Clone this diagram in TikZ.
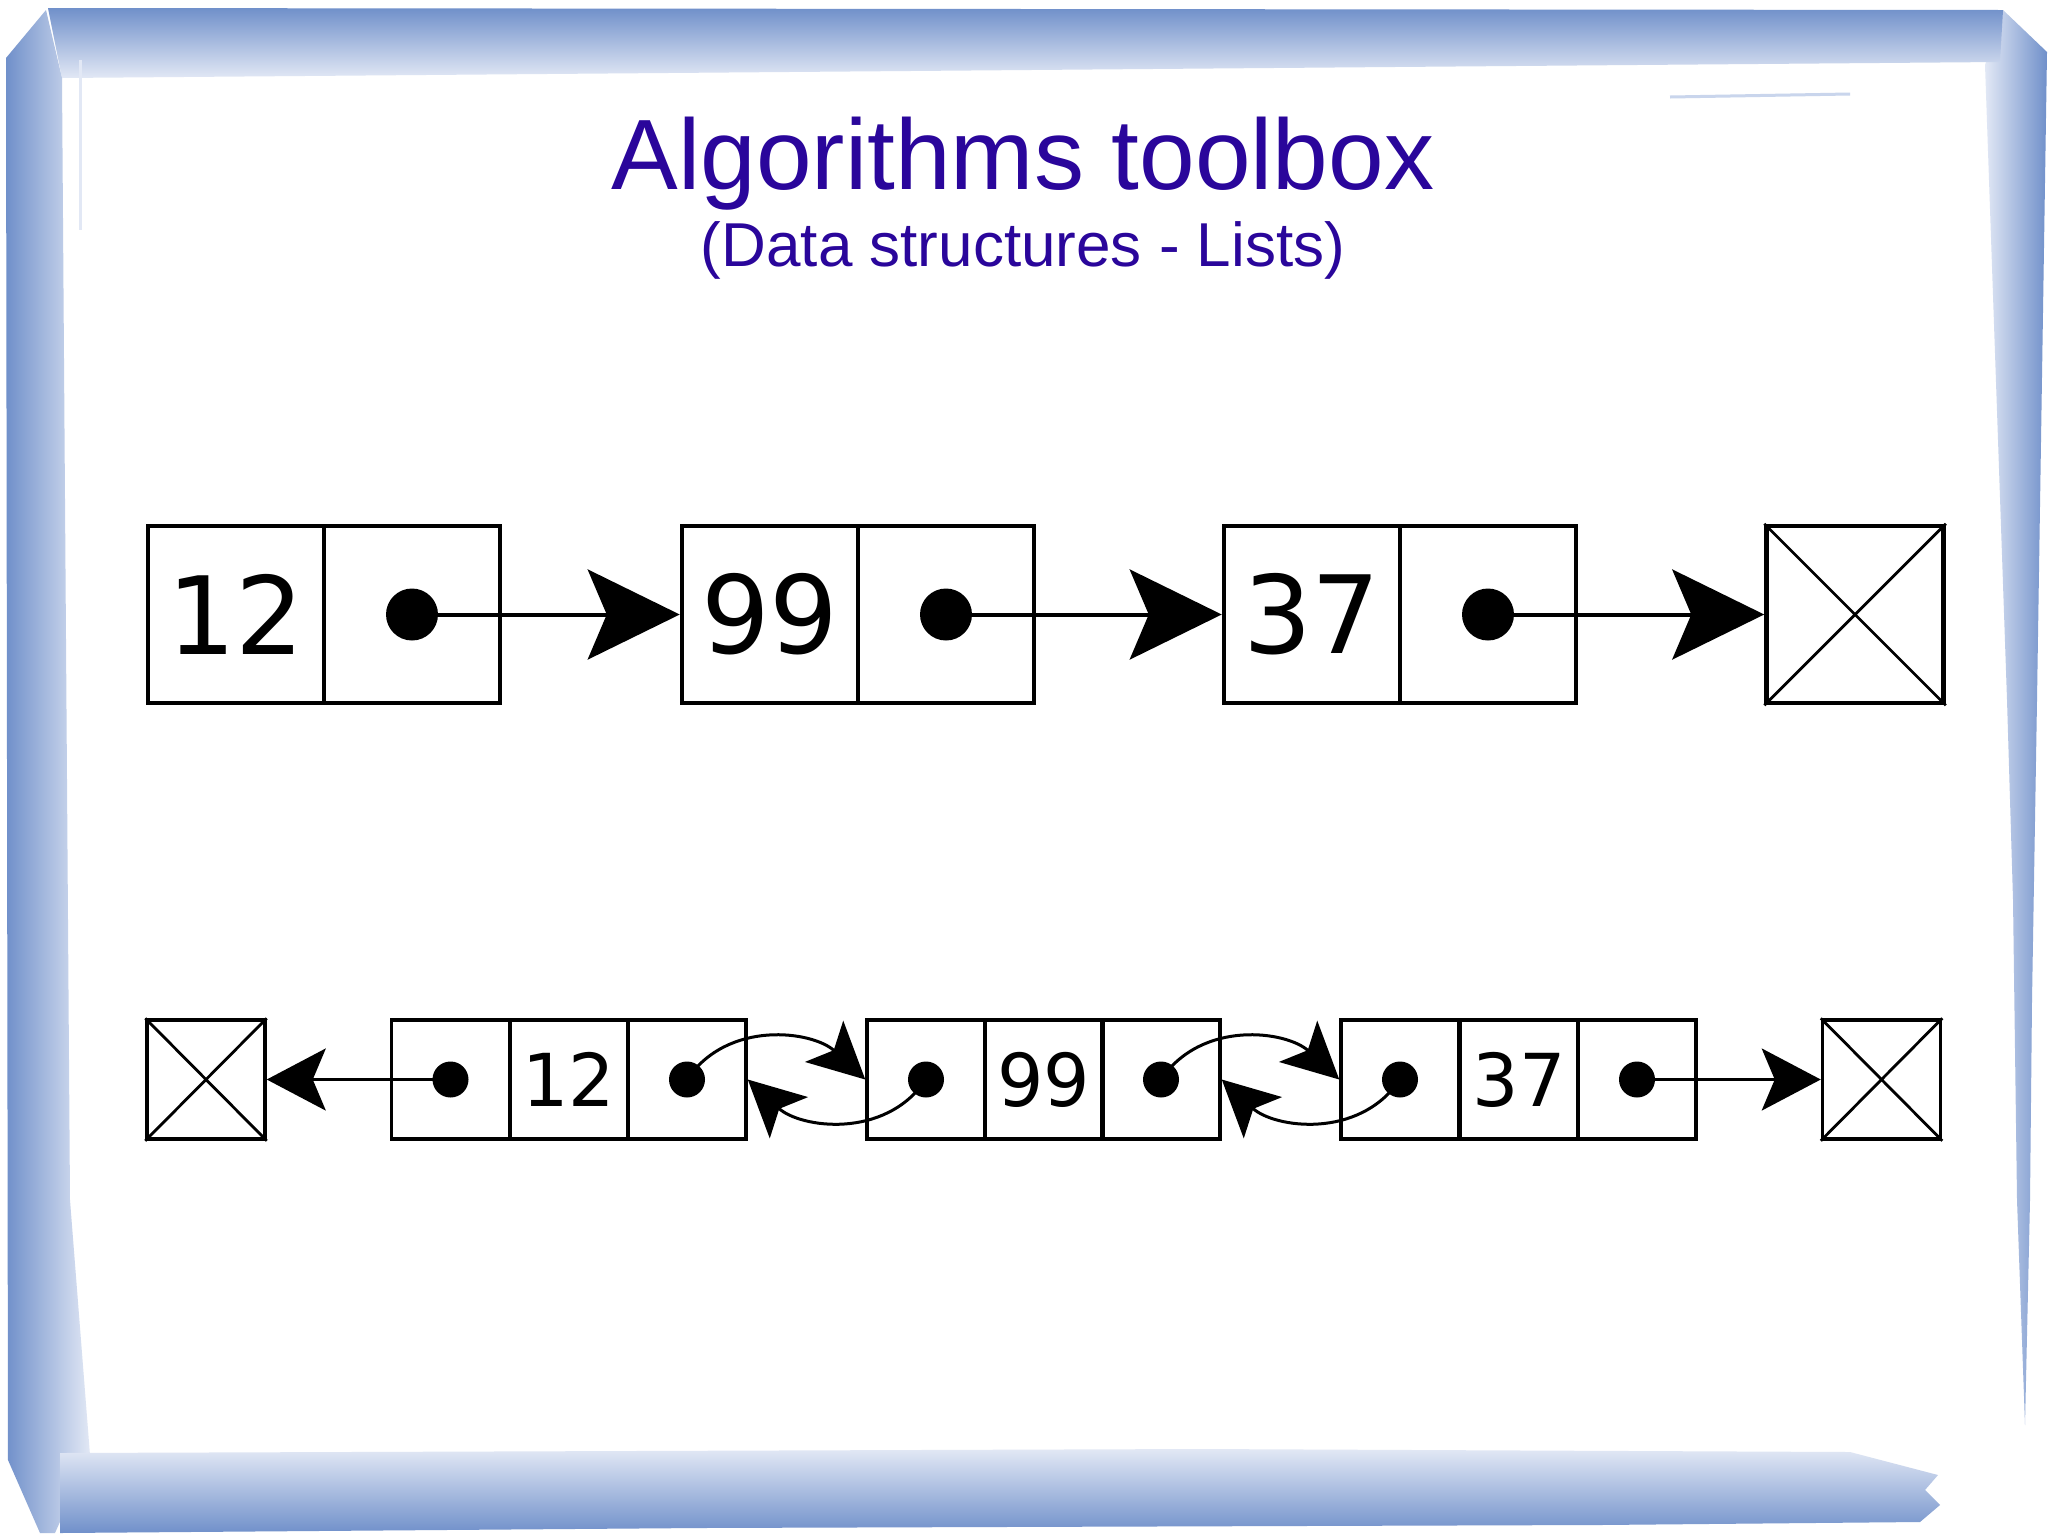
\documentclass[tikz,border=0pt]{standalone}
\usepackage{fontspec}
\setmainfont{Liberation Sans}
\newfontfamily\djv{DejaVu Sans}
\usetikzlibrary{arrows.meta}
\definecolor{titleblue}{RGB}{42,6,155}
\definecolor{frameDark}{RGB}{112,144,202}
\definecolor{frameMid}{RGB}{165,185,224}
\definecolor{framePale}{RGB}{226,232,245}
\begin{document}
\begin{tikzpicture}[x=1pt,y=-1pt,
  bigcell/.style={draw, line width=4.5pt, minimum width=176pt, minimum height=177pt, inner sep=0pt, font=\djv\fontsize{108}{112}\selectfont},
  smallcell/.style={draw, line width=3.5pt, minimum width=118pt, minimum height=119pt, inner sep=0pt, font=\djv\fontsize{73}{76}\selectfont},
  bigdot/.style={circle, fill, minimum size=52pt, inner sep=0pt},
  smalldot/.style={circle, fill, minimum size=36pt, inner sep=0pt},
  bignull/.style={draw, line width=4.5pt, minimum width=177pt, minimum height=177pt, inner sep=0pt},
  smallnull/.style={draw, line width=3.5pt, minimum width=118pt, minimum height=119pt, inner sep=0pt},
  toparrow/.style={line width=4pt, -{Stealth[length=92pt, width=90pt, inset=19pt]}},
  botarrow/.style={line width=3pt, -{Stealth[length=59pt, width=62pt, inset=13pt]}},
  curvearrow/.style={line width=3pt, -{Stealth[length=56pt, width=56pt, inset=13pt]}},
  cross/.style={line width=2.8pt}
]
\useasboundingbox (0,0) rectangle (2048,1535);
\fill[white] (0,0) rectangle (2048,1535);

% ---- frame ----
\shade[left color=framePale, right color=frameDark] (1985,65) -- (2003,10) -- (2047,52) -- (2037,700) -- (2032,1000) -- (2030,1200) -- (2025,1425) -- (2017,1200) -- (2013,900) -- (2007,700) -- cycle;
\shade[top color=frameDark, bottom color=framePale] (48,8) -- (2003,10) -- (2000,62) -- (62,78) -- cycle;
\shade[left color=frameDark, right color=framePale] (6,58) -- (46,10) -- (62,78) -- (70,1200) -- (90,1455) -- (55,1533) -- (40,1533) -- (8,1460) -- cycle;
\shade[top color=framePale, bottom color=frameDark] (60,1453) -- (1200,1449) -- (1850,1452) -- (1938,1475) -- (1925,1490) -- (1940,1505) -- (1920,1522) -- (1600,1525) -- (700,1528) -- (60,1533) -- cycle;
\draw[framePale, line width=3pt] (80,60) -- (80,230);
\draw[frameMid!60, line width=3pt] (1670,97) -- (1850,94);

% ---- title ----
\node[anchor=base, text=titleblue, font=\fontsize{100}{110}\selectfont, inner sep=0pt] (title) at (1023,189) {Algorithms toolbox};
\node[anchor=base, text=titleblue, font=\fontsize{62}{70}\selectfont, inner sep=0pt] (subtitle) at (1023,266) {(Data structures - Lists)};

% ---- singly linked list ----
\node[bigcell] (a1v) at (236,614.5) {12};
\node[bigcell] (a1p) at (412,614.5) {};
\node[bigcell] (a2v) at (770,614.5) {99};
\node[bigcell] (a2p) at (946,614.5) {};
\node[bigcell] (a3v) at (1312,614.5) {37};
\node[bigcell] (a3p) at (1488,614.5) {};
\node[bignull] (anull) at (1855,614.5) {};
\draw[cross] (anull.north west) -- (anull.south east) (anull.north east) -- (anull.south west);
\node[bigdot] (ad1) at (a1p.center) {};
\node[bigdot] (ad2) at (a2p.center) {};
\node[bigdot] (ad3) at (a3p.center) {};
\draw[toparrow] (ad1.center) -- (a2v.west);
\draw[toparrow] (ad2.center) -- (a3v.west);
\draw[toparrow] (ad3.center) -- (anull.west);

% ---- doubly linked list ----
\node[smallnull] (lnull) at (206,1079.5) {};
\draw[cross] (lnull.north west) -- (lnull.south east) (lnull.north east) -- (lnull.south west);
\node[smallnull] (rnull) at (1881.5,1079.5) {};
\draw[cross] (rnull.north west) -- (rnull.south east) (rnull.north east) -- (rnull.south west);

\node[smallcell] (b1l) at (450.5,1079.5) {};
\node[smallcell] (b1v) at (569,1079.5) {12};
\node[smallcell] (b1r) at (687,1079.5) {};
\node[smallcell] (b2l) at (926,1079.5) {};
\node[smallcell] (b2v) at (1044,1079.5) {99};
\node[smallcell] (b2r) at (1161,1079.5) {};
\node[smallcell] (b3l) at (1400,1079.5) {};
\node[smallcell] (b3v) at (1519,1079.5) {37};
\node[smallcell] (b3r) at (1637,1079.5) {};

\foreach \c in {b1l,b1r,b2l,b2r,b3l,b3r}
  \node[smalldot] (\c d) at (\c.center) {};

\draw[botarrow] (b1ld.center) -- (lnull.east);
\draw[botarrow] (b3rd.center) -- (rnull.west);

\draw[curvearrow] (b1rd.center) .. controls (728,1019) and (813,1031) .. (b2l.west);
\draw[curvearrow] (b2ld.center) .. controls (885,1140) and (800,1128) .. (b1r.east);
\draw[curvearrow] (b2rd.center) .. controls (1202,1019) and (1287,1031) .. (b3l.west);
\draw[curvearrow] (b3ld.center) .. controls (1359,1140) and (1274,1128) .. (b2r.east);
\end{tikzpicture}
\end{document}
